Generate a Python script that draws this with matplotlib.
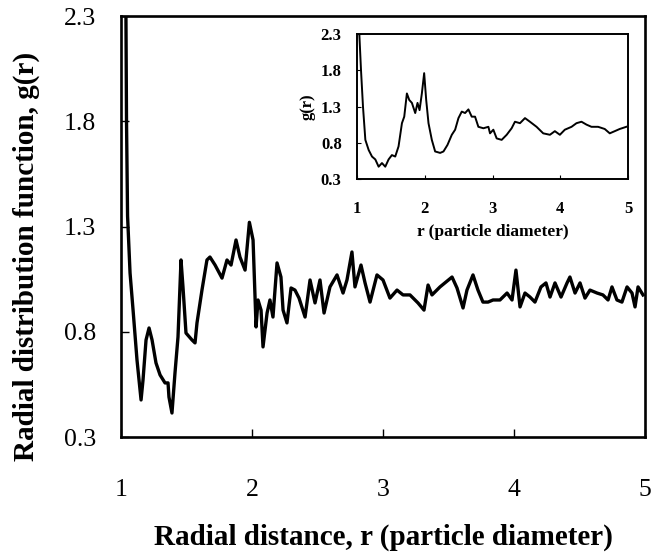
import numpy as np
import matplotlib.pyplot as plt

plt.rcParams['font.family'] = ['Liberation Serif', 'DejaVu Serif']

# main curve: radial distance r and g(r)
r_main = [1.035, 1.042, 1.050, 1.069, 1.092, 1.122, 1.153, 1.168, 1.191, 1.214,
          1.237, 1.267, 1.298, 1.336, 1.359, 1.366, 1.389, 1.412, 1.435, 1.458,
          1.473, 1.496, 1.542, 1.565, 1.580, 1.618, 1.656, 1.679, 1.718, 1.771,
          1.809, 1.840, 1.878, 1.908, 1.947, 1.980, 2.008, 2.031, 2.046, 2.069,
          2.084, 2.115, 2.137, 2.160, 2.191, 2.221, 2.237, 2.267, 2.298, 2.328,
          2.359, 2.405, 2.443, 2.481, 2.519, 2.550, 2.595, 2.649, 2.695, 2.725,
          2.763, 2.786, 2.832, 2.863, 2.901, 2.954, 3.000, 3.053, 3.107, 3.153,
          3.206, 3.267, 3.313, 3.344, 3.374, 3.435, 3.527, 3.565, 3.611, 3.641,
          3.687, 3.725, 3.763, 3.802, 3.840, 3.893, 3.947, 3.985, 4.015, 4.046,
          4.084, 4.122, 4.160, 4.206, 4.244, 4.275, 4.313, 4.359, 4.405, 4.427,
          4.466, 4.504, 4.542, 4.580, 4.634, 4.679, 4.718, 4.748, 4.786, 4.824,
          4.863, 4.901, 4.924, 4.947, 4.985]
g_main = [2.600, 1.800, 1.350, 1.079, 0.903, 0.666, 0.476, 0.571, 0.761, 0.818,
          0.761, 0.652, 0.595, 0.557, 0.557, 0.490, 0.414, 0.604, 0.775, 1.141,
          1.013, 0.794, 0.761, 0.747, 0.842, 0.998, 1.141, 1.155, 1.117, 1.055,
          1.141, 1.117, 1.236, 1.155, 1.093, 1.320, 1.236, 0.823, 0.951, 0.903,
          0.728, 0.889, 0.951, 0.870, 1.127, 1.060, 0.903, 0.842, 1.008, 0.998,
          0.960, 0.870, 1.046, 0.937, 1.046, 0.889, 1.013, 1.070, 0.984, 1.046,
          1.179, 1.013, 1.117, 1.032, 0.941, 1.070, 1.046, 0.960, 0.998, 0.975,
          0.975, 0.937, 0.903, 1.022, 0.975, 1.013, 1.060, 1.008, 0.913, 0.998,
          1.070, 0.998, 0.941, 0.941, 0.951, 0.951, 0.984, 0.951, 1.093, 0.918,
          0.984, 0.965, 0.941, 1.013, 1.032, 0.965, 1.032, 0.965, 1.032, 1.060,
          0.984, 1.032, 0.960, 0.998, 0.984, 0.975, 0.951, 1.013, 0.951, 0.941,
          1.013, 0.984, 0.918, 1.013, 0.975]

# inset curve
r_inset = [1.034, 1.059, 1.088, 1.123, 1.172, 1.221, 1.270, 1.319, 1.368, 1.417,
           1.466, 1.515, 1.564, 1.613, 1.663, 1.697, 1.736, 1.771, 1.810, 1.859,
           1.893, 1.923, 1.957, 1.991, 2.021, 2.055, 2.104, 2.153, 2.227, 2.276,
           2.335, 2.399, 2.448, 2.497, 2.546, 2.595, 2.644, 2.693, 2.742, 2.791,
           2.865, 2.939, 2.963, 3.012, 3.061, 3.135, 3.209, 3.282, 3.331, 3.405,
           3.479, 3.552, 3.650, 3.748, 3.847, 3.920, 3.994, 4.067, 4.166, 4.239,
           4.313, 4.387, 4.460, 4.558, 4.656, 4.730, 4.804, 4.877, 4.975]
g_inset = [2.30, 1.80, 1.30, 0.84, 0.70, 0.61, 0.57, 0.47, 0.52, 0.47,
           0.57, 0.63, 0.61, 0.75, 1.07, 1.16, 1.48, 1.39, 1.35, 1.21,
           1.35, 1.25, 1.48, 1.76, 1.39, 1.07, 0.84, 0.68, 0.66, 0.68,
           0.77, 0.91, 0.98, 1.14, 1.23, 1.21, 1.26, 1.16, 1.16, 1.02,
           1.00, 1.02, 0.93, 0.98, 0.86, 0.84, 0.91, 1.00, 1.09, 1.07,
           1.14, 1.09, 1.02, 0.93, 0.91, 0.96, 0.91, 0.98, 1.02, 1.07,
           1.09, 1.05, 1.02, 1.02, 0.99, 0.93, 0.96, 0.99, 1.02]

x_ticks = [1, 2, 3, 4, 5]
y_ticks = [0.3, 0.8, 1.3, 1.8, 2.3]

fig = plt.figure(figsize=(6.62, 5.52), dpi=100)

# main plot
ax = fig.add_axes([0.1828, 0.2083, 0.7915, 0.7627])
ax.plot(r_main, g_main, color='black', lw=2.4, solid_joinstyle='round')
ax.set_xlim(1, 5)
ax.set_ylim(0.3, 2.3)
ax.set_xticks(x_ticks)
ax.set_yticks(y_ticks)
ax.set_yticklabels(['%.1f' % v for v in y_ticks])
ax.tick_params(direction='in', length=6, width=1, labelsize=18.5,
               top=False, right=False)
ax.tick_params(axis='x', pad=30)
ax.tick_params(axis='y', pad=18)
for s in ax.spines.values():
    s.set_linewidth(1.9)
ax.set_xlabel('Radial distance, r (particle diameter)', fontsize=21,
              fontweight='bold')
ax.xaxis.set_label_coords(0.5, -0.205)
ax.set_ylabel('Radial distribution function, g(r)', fontsize=21,
              fontweight='bold')
ax.yaxis.set_label_coords(-0.155, 0.43)

# inset
axi = fig.add_axes([0.5393, 0.6757, 0.4094, 0.2627])
axi.plot(r_inset, g_inset, color='black', lw=1.4)
axi.set_xlim(1, 5)
axi.set_ylim(0.3, 2.3)
axi.set_xticks(x_ticks)
axi.set_yticks(y_ticks)
axi.set_yticklabels(['%.1f' % v for v in y_ticks])
axi.tick_params(direction='in', length=3, width=0.8, labelsize=12,
                top=False, right=False)
axi.tick_params(axis='x', pad=16)
axi.tick_params(axis='y', pad=11)
for lab in axi.get_xticklabels() + axi.get_yticklabels():
    lab.set_fontweight('bold')
for s in axi.spines.values():
    s.set_linewidth(1.4)
axi.set_xlabel('r (particle diameter)', fontsize=12.5, fontweight='bold',
               labelpad=5)
axi.set_ylabel('g(r)', fontsize=12, fontweight='bold', labelpad=4)

fig.savefig('out.png', dpi=100)
